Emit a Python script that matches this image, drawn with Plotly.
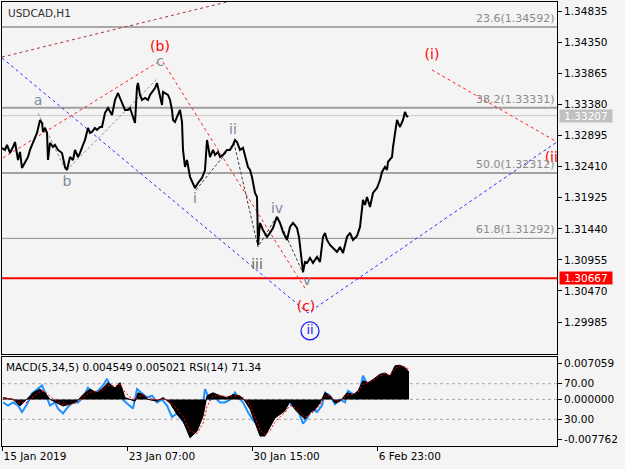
import plotly.graph_objects as go

# ---------------- data ----------------
symbol_title = "USDCAD,H1"

# H1 price path (bar index, price)
bar_x = [2, 5, 7, 10, 13, 15, 18, 20, 22, 25, 28, 30, 33, 37, 40, 42, 43, 45, 47, 48, 50, 53, 55, 58,
         62, 65, 67, 70, 73, 75, 78, 80, 83, 85, 88, 90, 92, 95, 97, 100, 102, 105, 108, 110, 112, 115,
         118, 120, 122, 125, 128, 130, 133, 135, 137, 138, 140, 142, 145, 148, 150, 153, 155, 157, 160,
         162, 163, 165, 168, 170, 172, 173, 175, 177, 180, 182, 183, 185, 187, 190, 193, 195, 198, 202,
         205, 207, 210, 213, 215, 218, 220, 223, 227, 230, 233, 235, 237, 240, 243, 245, 248, 250, 252,
         255, 257, 258, 260, 263, 265, 267, 270, 273, 275, 277, 280, 283, 287, 290, 293, 297, 299, 301,
         303, 305, 307, 310, 313, 317, 320, 323, 325, 327, 330, 333, 337, 340, 343, 345, 347, 350, 353,
         357, 360, 363, 365, 367, 370, 373, 377, 380, 382, 385, 387, 388, 392, 393, 395, 397, 399, 400,
         403, 405, 407, 408]
price = [1.32703, 1.32672, 1.32750, 1.32625, 1.32718, 1.32796, 1.32515, 1.32640, 1.32391, 1.32469,
         1.32562, 1.32672, 1.32796, 1.32937, 1.33140, 1.33093, 1.32953, 1.33015, 1.32937, 1.32515,
         1.32781, 1.32718, 1.32750, 1.32672, 1.32625, 1.32406, 1.32359, 1.32562, 1.32515, 1.32672,
         1.32562, 1.32625, 1.32750, 1.32828, 1.33015, 1.32937, 1.32953, 1.33015, 1.32984, 1.33031,
         1.33031, 1.33249, 1.33327, 1.33265, 1.33218, 1.33452, 1.33561, 1.33483, 1.33405, 1.33296,
         1.33296, 1.33327, 1.33187, 1.33093, 1.33655, 1.33717, 1.33530, 1.33452, 1.33483, 1.33452,
         1.33530, 1.33608, 1.33639, 1.33717, 1.33483, 1.33374, 1.33577, 1.33561, 1.33530, 1.33452,
         1.33296, 1.33140, 1.33109, 1.33187, 1.33296, 1.33109, 1.32672, 1.32406, 1.32515, 1.32250,
         1.32156, 1.32078, 1.32156, 1.32234, 1.32359, 1.32828, 1.32562, 1.32672, 1.32594, 1.32640,
         1.32562, 1.32594, 1.32672, 1.32672, 1.32750, 1.32828, 1.32796, 1.32672, 1.32703, 1.32594,
         1.32406, 1.32359, 1.32250, 1.32000, 1.31938, 1.31189, 1.31532, 1.31423, 1.31376, 1.31313,
         1.31376, 1.31454, 1.31548, 1.31626, 1.31532, 1.31391, 1.31267, 1.31470, 1.31532, 1.31454,
         1.31313, 1.31064, 1.30767, 1.30923, 1.30908, 1.30986, 1.30908, 1.31001, 1.30923, 1.31313,
         1.31376, 1.31267, 1.31189, 1.31142, 1.31079, 1.31157, 1.31064, 1.31189, 1.31313, 1.31376,
         1.31267, 1.31329, 1.31470, 1.31891, 1.31813, 1.31938, 1.31782, 1.32000, 1.32078, 1.32203,
         1.32328, 1.32406, 1.32359, 1.32484, 1.32562, 1.32718, 1.32937, 1.33140, 1.33062, 1.33031,
         1.33140, 1.33265, 1.33187, 1.33207]

price_ticks = [1.29985, 1.30470, 1.30955, 1.31440, 1.31925, 1.32410, 1.32895, 1.33380, 1.33865,
               1.34350, 1.34835]
price_range = [1.294861, 1.349818]

fib_names = ["23.6", "38.2", "50.0", "61.8"]
fib_prices = [1.34592, 1.33331, 1.32312, 1.31292]
support_level = 1.30667
last_price = 1.33207

time_tick_bars = [2.5, 127.7, 252.3, 377.7]
time_tick_labels = ["15 Jan 2019", "23 Jan 07:00", "30 Jan 15:00", "6 Feb 23:00"]
bar_range = [2, 557]

# Elliott wave labels
minor_labels = ["a", "b", "c", "i", "ii", "iii", "iv", "v"]
minor_x = [38, 67, 160, 195, 233, 257, 277, 307]
minor_y = [1.33436, 1.32156, 1.34045, 1.31891, 1.32968, 1.30861, 1.31750, 1.30611]

major_labels = ["(b)", "(c)", "(i)", "(ii)"]
major_x = [160, 306, 432, 554]
major_y = [1.34279, 1.30205, 1.34139, 1.32531]

circled_label = "ii"
circled_x = [310]
circled_y = [1.29846]

# wave lines
top_line_x = [2, 240]
top_line_y = [1.34123, 1.35032]
wave_b_x = [3, 158]
wave_b_y = [1.32547, 1.34045]
wave_c_x = [163, 306]
wave_c_y = [1.34045, 1.30486]
wave_next_x = [432, 560]
wave_next_y = [1.33920, 1.32770]
channel_x = [2, 308, 560]
channel_y = [1.34108, 1.30127, 1.32829]
abc_x = [38, 66, 158]
abc_y = [1.33249, 1.32344, 1.33795]
impulse_x = [196, 234, 258, 277, 303]
impulse_y = [1.32047, 1.32781, 1.31157, 1.31641, 1.30751]

# MACD(5,34,5) main / signal, RSI(14)
macd_x = [3, 13, 20, 27, 33, 40, 45, 50, 57, 63, 70, 77, 83, 90, 97, 103, 108, 115, 120, 125, 130,
          135, 138, 143, 148, 157, 163, 170, 177, 183, 190, 197, 203, 207, 213, 220, 227, 233, 240,
          245, 250, 255, 260, 265, 270, 275, 280, 285, 290, 295, 300, 305, 310, 315, 320, 325, 330,
          335, 340, 347, 353, 358, 363, 368, 373, 380, 385, 390, 395, 400, 405, 409]
macd_main = [0.0003, 0.0000, -0.0011, 0.0000, 0.0011, 0.0017, 0.0011, 0.0000, -0.0006, -0.0011,
             -0.0008, -0.0003, 0.0008, 0.0017, 0.0011, 0.0019, 0.0028, 0.0019, 0.0028, 0.0003,
             0.0000, -0.0003, 0.0011, 0.0008, 0.0000, -0.0003, 0.0003, -0.0006, -0.0025, -0.0036,
             -0.0064, -0.0053, -0.0028, 0.0006, 0.0011, 0.0006, 0.0003, 0.0008, 0.0006, -0.0003,
             -0.0016, -0.0039, -0.0061, -0.0061, -0.0047, -0.0031, -0.0025, -0.0019, -0.0003,
             -0.0017, -0.0025, -0.0033, -0.0022, -0.0017, -0.0006, 0.0011, 0.0006, -0.0006, -0.0003,
             0.0011, 0.0008, 0.0014, 0.0031, 0.0028, 0.0033, 0.0042, 0.0044, 0.0039, 0.0056, 0.0057,
             0.0053, 0.004549]
macd_signal = [0.0002, 0.0001, -0.0006, -0.0005, 0.0004, 0.0013, 0.0013, 0.0005, -0.0003, -0.0009,
               -0.0009, -0.0005, 0.0003, 0.0012, 0.0013, 0.0016, 0.0023, 0.0022, 0.0025, 0.0012,
               0.0004, -0.0001, 0.0005, 0.0008, 0.0003, -0.0001, 0.0001, -0.0003, -0.0016, -0.0029,
               -0.0052, -0.0057, -0.0040, -0.0012, 0.0006, 0.0007, 0.0004, 0.0006, 0.0006, 0.0001,
               -0.0010, -0.0029, -0.0051, -0.0059, -0.0052, -0.0038, -0.0029, -0.0022, -0.0010,
               -0.0014, -0.0022, -0.0030, -0.0025, -0.0019, -0.0010, 0.0005, 0.0007, -0.0002,
               -0.0003, 0.0007, 0.0008, 0.0012, 0.0025, 0.0028, 0.0031, 0.0039, 0.0043, 0.0040,
               0.0051, 0.0056, 0.0054, 0.005021]
macd_range = [-0.007762, 0.007059]

rsi_x = [3, 8, 13, 18, 22, 27, 32, 37, 42, 45, 50, 55, 58, 63, 68, 73, 78, 83, 88, 93, 98, 103, 107,
         110, 115, 120, 123, 128, 133, 137, 142, 147, 152, 157, 162, 167, 172, 177, 182, 187, 192,
         197, 202, 205, 208, 210, 215, 220, 225, 230, 235, 238, 243, 248, 253, 258, 263, 268, 273,
         280, 285, 288, 292, 297, 300, 303, 307, 312, 317, 322, 325, 330, 335, 340, 345, 348, 353,
         357, 360, 363, 367, 370, 373, 378, 383, 388, 392, 397, 402, 407]
rsi = [49, 45.5, 49, 45.5, 38, 47, 59, 64, 68, 60, 45.5, 49, 42, 36.6, 44, 49, 49, 54.5, 65.5, 60,
       62, 68, 75.5, 68, 64, 64, 52, 47, 42, 64, 59, 54.5, 56.5, 49, 52, 45.5, 32.6, 36.6, 29, 21.5,
       21.5, 25, 38, 64, 56, 52, 54.5, 49, 49, 52, 60, 54.5, 49, 38, 29, 23.3, 27, 32.6, 44, 42, 44,
       52, 45.5, 42, 34.5, 25, 31, 42, 38, 45.5, 60, 56.5, 47, 52, 49, 62, 58.5, 52, 64, 79, 70, 62,
       68, 71.5, 73, 66, 71.5, 73, 71.5, 71.34]
rsi_levels = [70, 30]

# ---------------- style ----------------
FONT = "DejaVu Sans"
BG = "#f4f4f4"
GRAY_TXT = "#7f8a9c"

fig = go.Figure()

# wave lines (main panel)
fig.add_trace(go.Scatter(x=top_line_x, y=top_line_y, mode="lines",
                         line=dict(color="#a33a3a", width=1, dash="3px,3px"), xaxis="x", yaxis="y"))
fig.add_trace(go.Scatter(x=channel_x, y=channel_y, mode="lines",
                         line=dict(color="#2b2bff", width=1, dash="3px,3px"), xaxis="x", yaxis="y"))
for wx, wy in [(wave_b_x, wave_b_y), (wave_c_x, wave_c_y), (wave_next_x, wave_next_y)]:
    fig.add_trace(go.Scatter(x=wx, y=wy, mode="lines",
                             line=dict(color="#ff2020", width=1, dash="3px,3px"), xaxis="x", yaxis="y"))
fig.add_trace(go.Scatter(x=abc_x, y=abc_y, mode="lines",
                         line=dict(color="#909090", width=1, dash="3px,2px"), xaxis="x", yaxis="y"))
fig.add_trace(go.Scatter(x=impulse_x, y=impulse_y, mode="lines",
                         line=dict(color="#404040", width=1, dash="3px,2px"), xaxis="x", yaxis="y"))

# price
fig.add_trace(go.Scatter(x=bar_x, y=price, mode="lines",
                         line=dict(color="#000000", width=2), xaxis="x", yaxis="y"))

# wave labels
iii_idx = minor_labels.index("iii")
fig.add_trace(go.Scatter(x=minor_x, y=minor_y, mode="text", text=minor_labels,
                         textfont=dict(family=FONT, size=14,
                                       color=[("#6e5a56" if i == iii_idx else GRAY_TXT)
                                              for i in range(len(minor_labels))]),
                         xaxis="x", yaxis="y", cliponaxis=True))
fig.add_trace(go.Scatter(x=major_x, y=major_y, mode="text", text=major_labels,
                         textfont=dict(family=FONT, size=14, color="#ff0000"),
                         xaxis="x", yaxis="y", cliponaxis=True))
fig.add_trace(go.Scatter(x=circled_x, y=circled_y, mode="markers+text", text=[circled_label],
                         textposition="middle center",
                         marker=dict(symbol="circle-open", size=18, color="#1a1aff",
                                     line=dict(width=1.3, color="#1a1aff")),
                         textfont=dict(family=FONT, size=13, color="#1a1aff"),
                         xaxis="x", yaxis="y", cliponaxis=True))

# sub panel: MACD histogram, signal, RSI
fig.add_trace(go.Scatter(x=macd_x, y=macd_main, mode="lines", fill="tozeroy",
                         fillcolor="#000000", line=dict(color="#000000", width=1),
                         xaxis="x2", yaxis="y3"))
fig.add_trace(go.Scatter(x=macd_x, y=macd_signal, mode="lines",
                         line=dict(color="#ff0000", width=1, dash="2px,2px"),
                         xaxis="x2", yaxis="y3"))
fig.add_trace(go.Scatter(x=rsi_x, y=rsi, mode="lines",
                         line=dict(color="#1e90ff", width=2), xaxis="x2", yaxis="y2"))

# ---------------- layout ----------------
W, H = 625, 469
m_l, m_r, m_t, m_b = 2, 68, 2, 23
plot_h = H - m_t - m_b
main_bottom_px, sub_top_px = 354, 357
main_dom = [(H - m_b - main_bottom_px) / plot_h, 1.0]
sub_dom = [0.0, (H - m_b - sub_top_px) / plot_h]
sub_h_px = (H - m_b) - sub_top_px

tick_font = dict(family=FONT, size=10.5, color="#000000")

macd_span = macd_range[1] - macd_range[0]
macd_tickvals = [macd_range[1] - 6.5 / sub_h_px * macd_span, 0.0,
                 macd_range[0] + 6.5 / sub_h_px * macd_span]
macd_ticktext = ["%.6f" % macd_range[1], "%.6f" % 0.0, "%.6f" % macd_range[0]]

axis_common = dict(showline=True, linecolor="#000000", linewidth=1, mirror=True,
                   showgrid=False, zeroline=False)

fig.update_layout(
    width=W, height=H, margin=dict(l=m_l, r=m_r, t=m_t, b=m_b),
    paper_bgcolor=BG, plot_bgcolor=BG, showlegend=False,
    xaxis=dict(domain=[0, 1], range=bar_range, anchor="y", showticklabels=False, ticks="",
               **axis_common),
    yaxis=dict(domain=main_dom, range=price_range, side="right", anchor="x",
               tickvals=price_ticks, ticktext=["%.5f" % v for v in price_ticks],
               ticks="outside", ticklen=4, tickcolor="#000000", tickfont=tick_font,
               **axis_common),
    xaxis2=dict(domain=[0, 1], range=bar_range, anchor="y2", matches="x",
                tickvals=time_tick_bars, ticktext=time_tick_labels, ticks="outside", ticklen=4,
                tickcolor="#000000", tickfont=tick_font, ticklabelposition="outside right",
                **axis_common),
    yaxis2=dict(domain=sub_dom, range=[0, 100], side="right", anchor="x2",
                tickvals=rsi_levels, ticktext=["%.2f" % v for v in rsi_levels],
                ticks="outside", ticklen=4, tickcolor="#000000", tickfont=tick_font,
                **axis_common),
    yaxis3=dict(range=macd_range, side="right", overlaying="y2", anchor="x2",
                tickvals=macd_tickvals, ticktext=macd_ticktext, ticks="outside", ticklen=4,
                tickcolor="#000000", tickfont=tick_font, showgrid=False, zeroline=False,
                showline=False),
)

shapes = []
fib_line_colors = ["#a8a8a8", "#a0a0a0", "#505050", "#8c8c8c"]
fib_line_widths = [2, 2, 1, 1]
for lvl, col, wd in zip(fib_prices, fib_line_colors, fib_line_widths):
    shapes.append(dict(type="line", xref="x domain", yref="y", x0=0, x1=1, y0=lvl, y1=lvl,
                       line=dict(color=col, width=wd), layer="below"))
shapes.append(dict(type="line", xref="x domain", yref="y", x0=0, x1=1, y0=last_price,
                   y1=last_price, line=dict(color="#c8c8c8", width=1), layer="below"))
shapes.append(dict(type="line", xref="x domain", yref="y", x0=0, x1=1, y0=support_level,
                   y1=support_level, line=dict(color="#ff0000", width=2), layer="below"))
for lv in rsi_levels:
    shapes.append(dict(type="line", xref="x2 domain", yref="y2", x0=0, x1=1, y0=lv, y1=lv,
                       line=dict(color="#a8a8a8", width=1, dash="3px,3px"), layer="below"))
shapes.append(dict(type="line", xref="x2 domain", yref="y3", x0=0, x1=1, y0=0, y1=0,
                   line=dict(color="#a8a8a8", width=1, dash="3px,3px"), layer="below"))
fig.update_layout(shapes=shapes)

annotations = []
for name, lvl in zip(fib_names, fib_prices):
    annotations.append(dict(xref="x domain", yref="y", x=1, y=lvl, xanchor="right",
                            yanchor="bottom", text="%s(%.5f)" % (name, lvl), showarrow=False,
                            font=dict(family=FONT, size=11, color="#8a8a8a"), xshift=-1,
                            borderpad=0, yshift=1))
for val, bg in [(last_price, "#c0c0c0"), (support_level, "#ff0000")]:
    annotations.append(dict(xref="paper", yref="y", x=1, y=val, xanchor="left", yanchor="middle",
                            text="%.5f" % val, showarrow=False, bgcolor=bg, width=51, height=11,
                            font=dict(family=FONT, size=10.5, color="#ffffff"), xshift=2,
                            borderpad=0.5))
annotations.append(dict(xref="x domain", yref="y domain", x=0, y=1, xanchor="left", yanchor="top",
                        text=symbol_title, showarrow=False, xshift=4, yshift=-3,
                        font=dict(family=FONT, size=10.5, color="#303030")))
annotations.append(dict(xref="x2 domain", yref="y2 domain", x=0, y=1, xanchor="left",
                        yanchor="top", showarrow=False, xshift=2, yshift=-2,
                        text="MACD(5,34,5) %.6f %.6f RSI(14) %.2f" % (macd_main[-1],
                                                                     macd_signal[-1], rsi[-1]),
                        font=dict(family=FONT, size=10.5, color="#000000")))
fig.update_layout(annotations=annotations)

fig.write_html("out.html")
